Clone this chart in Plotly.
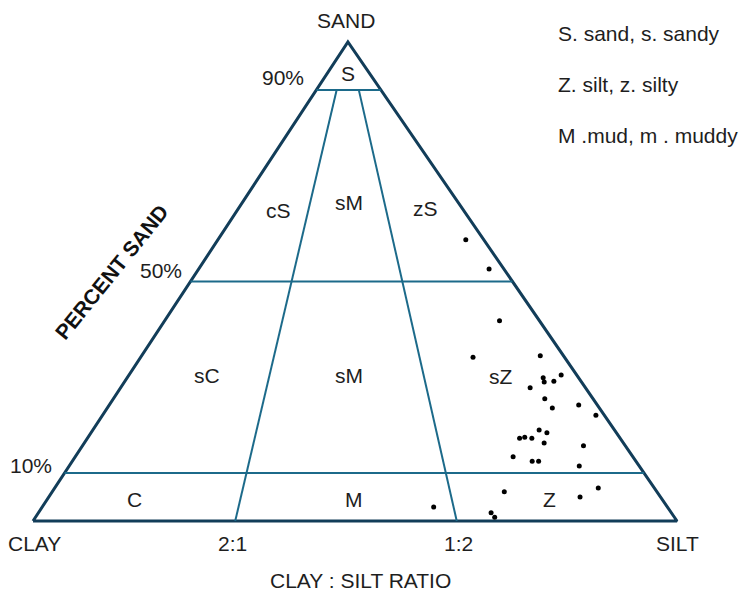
import plotly.graph_objects as go

# ---- data -------------------------------------------------------------
sand_pct = [58.7, 52.6, 41.8, 34.2, 34.5, 30.5, 29.9, 29.0, 29.2, 27.8,
            25.5, 24.2, 23.6, 22.1, 19.0, 18.4, 17.3, 17.5, 17.3, 16.3,
            15.7, 13.4, 12.5, 12.5, 11.5, 6.1, 6.9, 5.0, 2.9, 1.7, 0.8]
silt_pct = [38.5, 45.1, 52.0, 51.6, 61.9, 67.1, 64.6, 65.2, 66.6, 63.6,
            67.0, 72.9, 69.1, 76.6, 69.3, 70.8, 67.1, 67.8, 69.0, 71.4,
            77.8, 68.0, 71.4, 72.4, 79.2, 70.2, 84.4, 82.5, 60.8, 70.3, 71.3]
sand_class_lines = [10, 50, 90]          # percent sand boundaries
ratio_lines = [0.314, 0.658]             # base positions of 2:1 and 1:2 lines (as drawn)
ratio_labels = ["2:1", "1:2"]
corner_labels = ["CLAY", "SILT", "SAND"]
pct_labels = ["10%", "50%", "90%"]
class_names = ["S", "cS", "sM", "zS", "sC", "sM", "sZ", "C", "M", "Z"]
legend_lines = ["S. sand, s. sandy", "Z. silt, z. silty", "M .mud, m . muddy"]

APEX = 0.489  # horizontal position of the SAND apex on the base

# label placement (silt fraction, sand %) -- layout only
class_pos = [(0.489, 93.5), (0.180, 64.9), (0.494, 66.4), (0.838, 65.3),
             (0.175, 30.3), (0.491, 30.3), (0.829, 30.1),
             (0.143, 4.4), (0.499, 4.4), (0.816, 4.4)]
pct_pos = [(0.032, 11.5), (0.234, 52.2), (0.4235, 92.5)]


def to_xy(silt_frac, sand):
    t = 1 - sand / 100.0
    return APEX + (silt_frac - APEX) * t, sand


FONT = "Liberation Sans, Arial, Helvetica, sans-serif"
OUT = "#123d59"
INN = "#1c6a8a"
FS = 21

fig = go.Figure()

# outline
fig.add_trace(go.Scatter(x=[0, APEX, 1, 0], y=[0, 100, 0, 0], mode="lines",
                         line=dict(color=OUT, width=3), hoverinfo="skip"))

# horizontal sand class lines
for s in sand_class_lines:
    x0, _ = to_xy(0, s)
    x1, _ = to_xy(1, s)
    fig.add_trace(go.Scatter(x=[x0, x1], y=[s, s], mode="lines",
                             line=dict(color=INN, width=2), hoverinfo="skip"))

# ratio lines
for r in ratio_lines:
    xa, ya = to_xy(r, 0)
    xb, yb = to_xy(r, 90)
    fig.add_trace(go.Scatter(x=[xa, xb], y=[ya, yb], mode="lines",
                             line=dict(color=INN, width=2), hoverinfo="skip"))

# samples
px, py = [], []
for s, z in zip(sand_pct, silt_pct):
    x, y = to_xy(z / (100 - s), s)
    px.append(x)
    py.append(y)
fig.add_trace(go.Scatter(x=px, y=py, mode="markers",
                         marker=dict(color="black", size=5)))

tf = dict(family=FONT, size=FS, color="#1e1e1e")
ann = []
for name, (f, s) in zip(class_names, class_pos):
    x, y = to_xy(f, s)
    ann.append(dict(x=x, y=y, text=name, showarrow=False, font=tf))

# corner and ratio labels
ann.append(dict(x=0.002, y=-4.8, text=corner_labels[0], showarrow=False, font=tf))
ann.append(dict(x=1.0, y=-4.8, text=corner_labels[1], showarrow=False, font=tf))
ann.append(dict(x=0.486, y=104.4, text=corner_labels[2], showarrow=False, font=tf))
for r, lab in zip([0.309, 0.661], ratio_labels):
    ann.append(dict(x=r, y=-4.8, text=lab, showarrow=False, font=tf))
ann.append(dict(x=0.509, y=-12.4, text="CLAY : SILT RATIO", showarrow=False, font=tf))

# percent labels on the left edge
for (x, y), lab in zip(pct_pos, pct_labels):
    ann.append(dict(x=x, y=y, text=lab, showarrow=False, font=tf, xanchor="right"))

ann.append(dict(x=0.123, y=52.0, text="<b>PERCENT SAND</b>", showarrow=False,
                textangle=-51, font=dict(family=FONT, size=FS, color="#111")))

# key text (pixel positions)
for i, t in enumerate(legend_lines):
    ann.append(dict(x=556 / 741, y=1 - (33 + 51.5 * i) / 593, xref="paper",
                    yref="paper", text=t, showarrow=False, xanchor="left",
                    yanchor="middle", font=tf))

fig.update_layout(
    width=741, height=593, autosize=False,
    margin=dict(l=0, r=0, t=0, b=0),
    paper_bgcolor="white", plot_bgcolor="white",
    showlegend=False,
    xaxis=dict(range=[-33 / 644, 708 / 644], visible=False, fixedrange=True),
    yaxis=dict(range=[-72 / 4.79, 521 / 4.79], visible=False, fixedrange=True),
    annotations=ann,
)

fig.write_html("out.html", config={"displayModeBar": False},
               post_script="document.body.style.margin='0';document.body.style.overflow='hidden';")
